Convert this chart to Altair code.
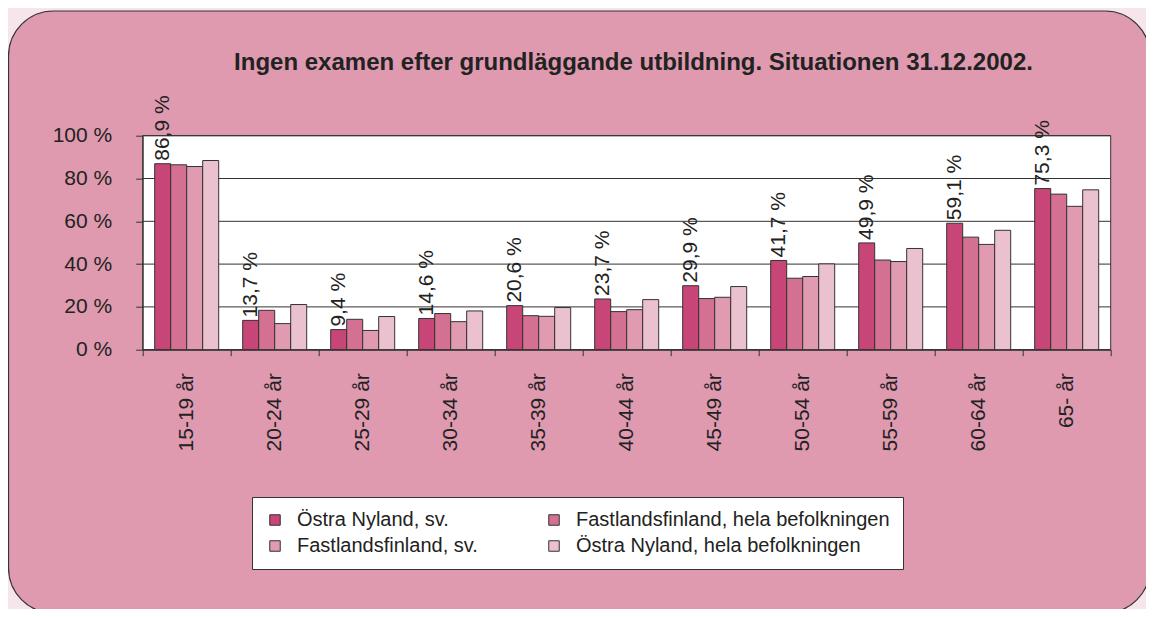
import altair as alt
import pandas as pd

categories = ["15-19 år", "20-24 år", "25-29 år", "30-34 år", "35-39 år", "40-44 år",
              "45-49 år", "50-54 år", "55-59 år", "60-64 år", "65- år"]
series_names = ["Östra Nyland, sv.", "Fastlandsfinland, hela befolkningen",
                "Fastlandsfinland, sv.", "Östra Nyland, hela befolkningen"]
ostra_sv = [86.9, 13.7, 9.4, 14.6, 20.6, 23.7, 29.9, 41.7, 49.9, 59.1, 75.3]
fast_hela = [86.4, 18.4, 14.2, 16.9, 15.9, 17.8, 23.9, 33.4, 41.9, 52.6, 72.7]
fast_sv = [85.6, 12.2, 9.0, 13.1, 15.6, 18.7, 24.5, 34.2, 41.2, 49.2, 67.0]
ostra_hela = [88.4, 21.1, 15.5, 18.1, 19.7, 23.4, 29.5, 40.1, 47.3, 55.8, 74.7]
colors = ["#c84577", "#d47193", "#e09bb1", "#ebc1cf"]
y_ticks = [0, 20, 40, 60, 80, 100]
title_text = "Ingen examen efter grundläggande utbildning. Situationen 31.12.2002."

rows = []
for s, vals in zip(series_names, [ostra_sv, fast_hela, fast_sv, ostra_hela]):
    for c, v in zip(categories, vals):
        rows.append({"cat": c, "series": s, "value": v,
                     "label": f"{v:.1f}".replace(".", ",") + " %"})
df = pd.DataFrame(rows)

W, H = 968, 214
PL, PT = 134.7, 127.7
VW, VH = 1138, 601
FONT = "Liberation Sans"
DARK = "#333333"
TXT = "#222222"

x_enc = alt.X("cat:N", sort=categories,
              scale=alt.Scale(domain=categories, paddingInner=0, paddingOuter=0),
              title=None,
              axis=alt.Axis(tickBand="extent", labelAngle=270, labelAlign="right",
                            labelBaseline="middle", labelFontSize=21, labelPadding=17,
                            tickSize=6, tickColor=DARK, domainColor=DARK, labelColor=TXT,
                            grid=False, labelFont=FONT, zindex=2))
xo_enc = alt.XOffset("series:N", sort=series_names,
                     scale=alt.Scale(domain=series_names, paddingInner=0, paddingOuter=0.75))
y_axis = alt.Axis(values=y_ticks, labelExpr="datum.value + ' %'", grid=False,
                  tickSize=7, labelPadding=24, labelFontSize=21, tickColor=DARK,
                  domainColor=DARK, labelColor=TXT, labelFont=FONT, zindex=2)
y_enc = alt.Y("value:Q", scale=alt.Scale(domain=[0, 100]), title=None, axis=y_axis)

one = pd.DataFrame({"a": [0]})

frame = alt.Chart(one).mark_rect(fill="#df9aaf", stroke=DARK, strokeWidth=1.2,
                                 cornerRadius=45, clip=False).encode(
    x=alt.value(8 - 8 - PL + 0.5), x2=alt.value(1150 - 8 - PL),
    y=alt.value(11 - 8 - PT), y2=alt.value(613 - 8 - PT))

plotbg = alt.Chart(one).mark_rect(fill="white", stroke=DARK, strokeWidth=1).encode(
    x=alt.value(0), x2=alt.value(W), y=alt.value(0), y2=alt.value(H))

grid = alt.Chart(pd.DataFrame({"value": y_ticks})).mark_rule(color=DARK, strokeWidth=1).encode(
    y=y_enc)

bars = alt.Chart(df).mark_bar(stroke=DARK, strokeWidth=1).encode(
    x=x_enc, xOffset=xo_enc, y=y_enc,
    color=alt.Color("series:N", sort=series_names,
                    scale=alt.Scale(domain=series_names, range=colors),
                    legend=alt.Legend(title=None, orient="none", legendX=109.3, legendY=361.3,
                                      direction="horizontal",
                                      columns=2, fillColor="white", strokeColor=DARK,
                                      padding=13, symbolType="square", symbolSize=110,
                                      symbolStrokeColor=DARK, symbolStrokeWidth=1,
                                      labelFontSize=20, labelColor=TXT, labelFont=FONT,
                                      rowPadding=6, columnPadding=66, labelOffset=12,
                                      labelLimit=500)))

labels = alt.Chart(df).transform_filter(alt.datum.series == series_names[0]).mark_text(
    angle=270, align="left", baseline="middle", dx=3, fontSize=21, color=TXT, font=FONT
).encode(x=alt.X("cat:N", sort=categories), xOffset=alt.XOffset("series:N", sort=series_names),
         y=alt.Y("value:Q"), text="label:N")

title = alt.Chart(one).mark_text(fontSize=24, fontWeight="bold", font=FONT, color=TXT,
                                 align="center", baseline="alphabetic").encode(
    x=alt.value(633.5 - 8 - PL), y=alt.value(70 - 8 - PT), text=alt.value(title_text))

chart = alt.layer(frame, plotbg, grid, bars, labels, title).properties(
    width=W, height=H, autosize="none",
    padding={"left": PL, "top": PT, "right": VW - W - PL, "bottom": VH - H - PT},
    background="#f6e6ec"
).configure_view(stroke=None)

chart.save("out.html", embed_options={"renderer": "svg", "actions": False})
